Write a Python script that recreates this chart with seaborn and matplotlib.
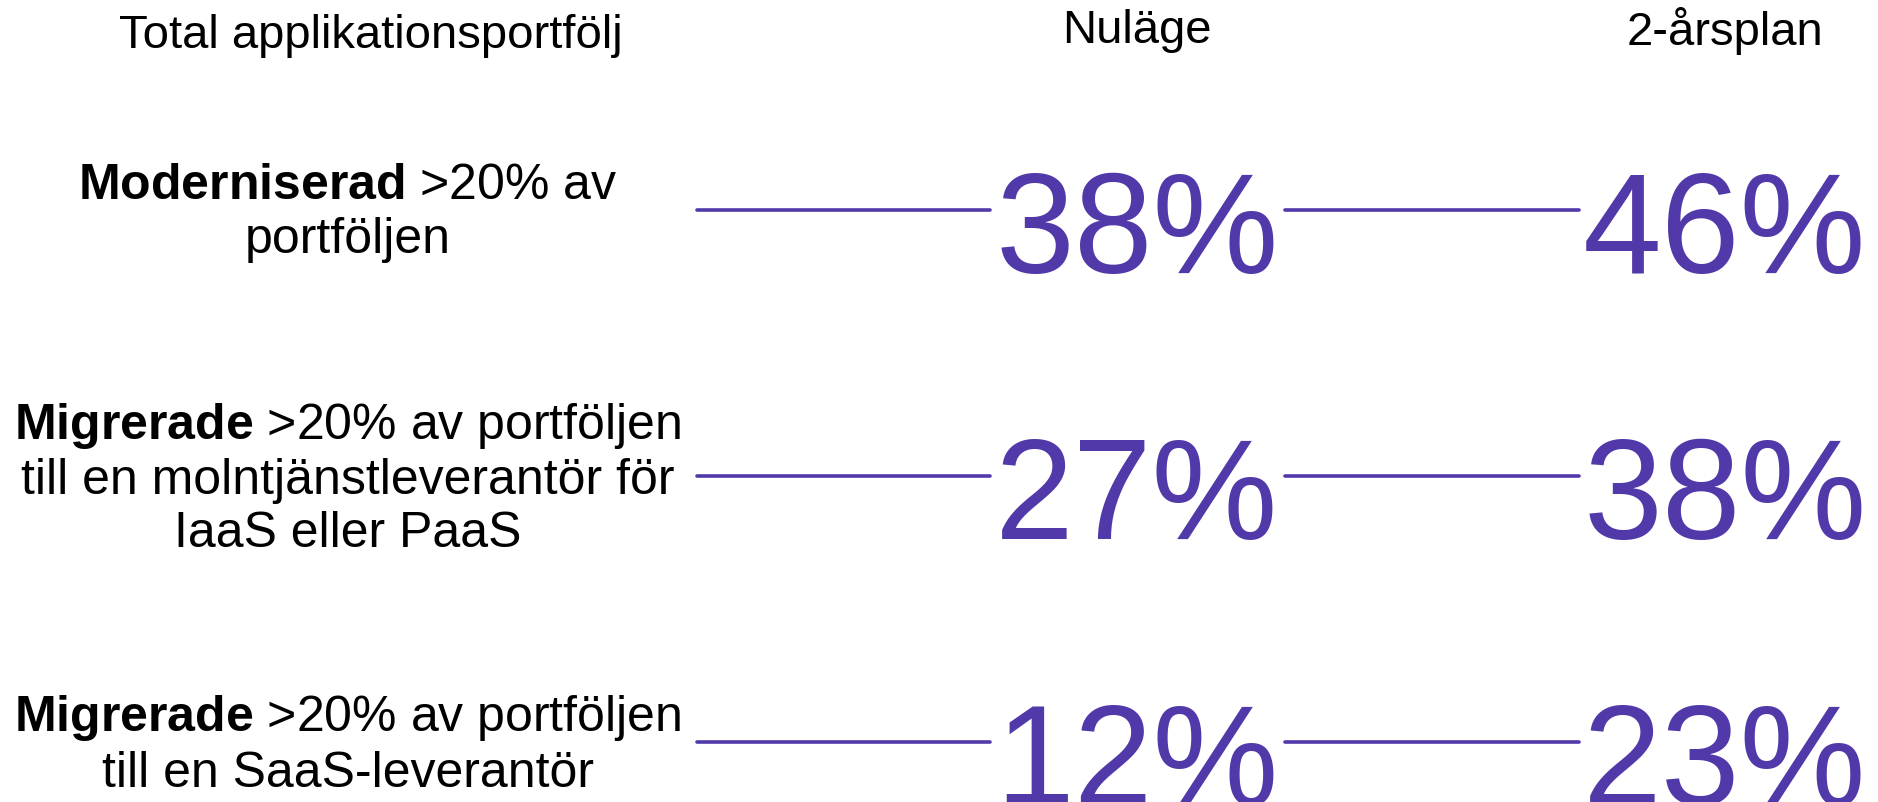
import matplotlib
matplotlib.use("Agg")
import matplotlib.pyplot as plt
import numpy as np
import pandas as pd
import seaborn as sns

# data
kategorier = [
    r"$\mathbf{Moderniserad}$ >20% av" + "\nportföljen",
    r"$\mathbf{Migrerade}$ >20% av portföljen" + "\ntill en molntjänstleverantör för\nIaaS eller PaaS",
    r"$\mathbf{Migrerade}$ >20% av portföljen" + "\ntill en SaaS-leverantör",
]
nulage = [38, 27, 12]
tvaarsplan = [46, 38, 23]
rubriker = ["Total applikationsportfölj", "Nuläge", "2-årsplan"]

lila = "#5139A9"

sns.set_theme(style="white")
plt.rcParams['font.family'] = ['Liberation Sans', 'DejaVu Sans']
plt.rcParams['text.color'] = 'black'
plt.rcParams['mathtext.fontset'] = 'custom'
plt.rcParams['mathtext.rm'] = 'Liberation Sans'
plt.rcParams['mathtext.bf'] = 'Liberation Sans:bold'

fig = plt.figure(figsize=(18.78, 8.02), dpi=100)
ax = fig.add_axes([0, 0, 1, 1])

# layout (pixlar)
kol_x = [348, 1137, 1725]
rad_y0, rad_steg = 210, 266
linjer = [(697, 990), (1285, 1579)]

# linjer mellan kolumnerna
seg = []
for i in range(len(kategorier)):
    y = rad_y0 + rad_steg * i
    for j, (x0, x1) in enumerate(linjer):
        seg.append({"x": x0, "y": y, "id": f"{i}-{j}"})
        seg.append({"x": x1, "y": y, "id": f"{i}-{j}"})
seg = pd.DataFrame(seg)
sns.lineplot(data=seg, x="x", y="y", units="id", estimator=None,
             color=lila, linewidth=2.6, ax=ax, legend=False)
ax.set_xlim(0, 1878)
ax.set_ylim(802, 0)
ax.axis('off')

# rubriker
ax.text(kol_x[0] + 23, 36, rubriker[0], ha='center', va='center', fontsize=34, color='black')
ax.text(kol_x[1], 31, rubriker[1], ha='center', va='center', fontsize=34, color='black')
ax.text(kol_x[2], 31, rubriker[2], ha='center', va='center', fontsize=34, color='black')

# texter och procentsiffror
for i, (kat, a, b) in enumerate(zip(kategorier, nulage, tvaarsplan)):
    y = rad_y0 + rad_steg * i
    ax.text(kol_x[0], y + 3, kat, ha='center', va='center', fontsize=36,
            linespacing=1.2, multialignment='center', color='black')
    ax.text(kol_x[1], y + 63, f"{a}%", ha='center', va='baseline',
            fontsize=102, color=lila)
    ax.text(kol_x[2], y + 63, f"{b}%", ha='center', va='baseline',
            fontsize=102, color=lila)

fig.savefig("out.png", dpi=100)
